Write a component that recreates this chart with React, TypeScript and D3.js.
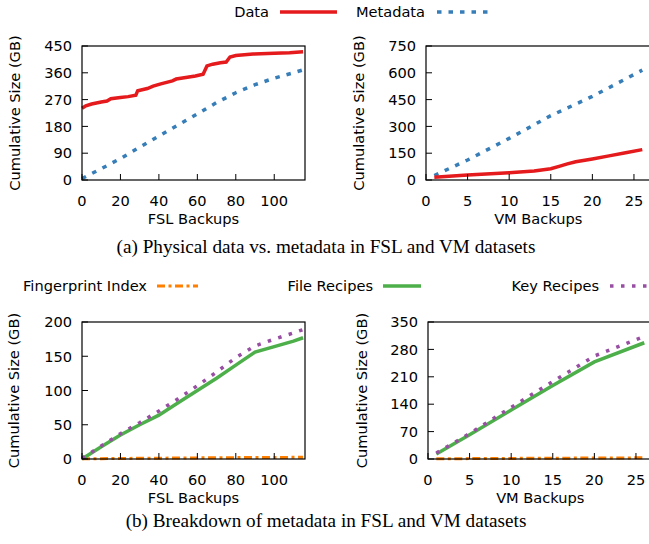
import React from 'react';
import * as d3 from 'd3';

// FSL: physical data vs metadata (GB)
const fslDataBackups = [0, 2, 5, 10, 13, 15, 20, 24, 28, 29, 34, 37, 41, 47, 49, 54, 59, 63, 65, 68, 72, 75, 77, 80, 89, 100, 108, 115];
const fslDataGB = [241, 249, 255, 262, 265, 273, 277, 280, 285, 300, 307, 315, 323, 333, 339, 344, 349, 355, 383, 389, 394, 396, 413, 418, 423, 426, 427, 431];
const fslMetaBackups = [0, 10, 20, 30, 40, 50, 60, 70, 80, 90, 100, 110, 115];
const fslMetaGB = [5, 38, 72, 110, 148, 185, 222, 260, 293, 320, 342, 360, 370];

// VM: physical data vs metadata (GB)
const vmDataBackups = [1, 5, 10, 13, 15, 16, 17, 18, 20, 22, 24, 26];
const vmDataGB = [15, 28, 40, 50, 63, 76, 90, 102, 118, 135, 152, 170];
const vmMetaBackups = [1, 5, 10, 15, 20, 26];
const vmMetaGB = [25, 112, 233, 360, 468, 615];

// FSL: metadata breakdown (GB)
const fslBreakBackups = [0, 10, 20, 30, 40, 50, 60, 70, 80, 90, 100, 110, 115];
const fslFingerprintGB = [0.3, 0.5, 0.8, 1.0, 1.2, 1.4, 1.6, 1.8, 2.0, 2.2, 2.3, 2.4, 2.5];
const fslFileRecipesGB = [0, 18, 35, 50, 64, 82, 100, 118, 137, 156, 164, 172, 177];
const fslKeyRecipesGB = [1, 19, 37, 53, 70, 88, 107, 127, 148, 165, 175, 184, 189];

// VM: metadata breakdown (GB)
const vmBreakBackups = [1, 5, 10, 15, 20, 26];
const vmFingerprintGB = [0.5, 1.0, 1.5, 2.0, 2.5, 3.0];
const vmFileRecipesGB = [13, 62, 125, 188, 248, 297];
const vmKeyRecipesGB = [15, 65, 132, 198, 263, 313];

const fslXTicks = [0, 20, 40, 60, 80, 100];
const vmXTicks = [0, 5, 10, 15, 20, 25];

const RED = '#e41a1c';
const BLUE = '#377eb8';
const ORANGE = '#ff7f00';
const GREEN = '#4daf4a';
const PURPLE = '#984ea3';

const SANS = '"DejaVu Sans", sans-serif';
const SERIF = '"Liberation Serif", serif';
const FS = 14.6;

const styles = {
  data: { color: RED, width: 3.5, dash: null },
  meta: { color: BLUE, width: 3.5, dash: '4.5 7' },
  fp: { color: ORANGE, width: 3, dash: '8 3.5 3 3.5' },
  file: { color: GREEN, width: 3.5, dash: null },
  key: { color: PURPLE, width: 3.5, dash: '3.5 7.5' },
};

const Panel = ({ x0, x1, y0, y1, xMax, yMax, yStep, xTicks, xLabel, yLabelX, series }) => {
  const x = d3.scaleLinear().domain([0, xMax]).range([x0, x1]);
  const y = d3.scaleLinear().domain([0, yMax]).range([y1, y0]);
  const yTicks = d3.range(0, yMax + 1, yStep);
  const line = d3.line().x(d => x(d[0])).y(d => y(d[1]));
  const tick = 6;
  return (
    <g>
      {series.map((s, i) => (
        <path key={i} d={line(s.xs.map((v, j) => [v, s.ys[j]]))} fill="none"
          stroke={s.style.color} strokeWidth={s.style.width}
          strokeDasharray={s.style.dash || undefined} />
      ))}
      <rect x={x0} y={y0} width={x1 - x0} height={y1 - y0} fill="none" stroke="#000" strokeWidth={1.2} />
      {yTicks.map(t => (
        <g key={'y' + t}>
          <line x1={x0} x2={x0 + tick} y1={y(t)} y2={y(t)} stroke="#000" />
          <text x={x0 - 10} y={y(t)} dy="0.36em" textAnchor="end" fontFamily={SANS} fontSize={FS}>{t}</text>
        </g>
      ))}
      {xTicks.map(t => (
        <g key={'x' + t}>
          <line x1={x(t)} x2={x(t)} y1={y1} y2={y1 - tick} stroke="#000" />
          <text x={x(t)} y={y1 + 21} dy="0.36em" textAnchor="middle" fontFamily={SANS} fontSize={FS}>{t}</text>
        </g>
      ))}
      <text x={(x0 + x1) / 2} y={y1 + 38.5} dy="0.36em" textAnchor="middle" fontFamily={SANS} fontSize={FS}>{xLabel}</text>
      <text transform={`translate(${yLabelX},${(y0 + y1) / 2}) rotate(-90)`} dy="0.36em" textAnchor="middle"
        fontFamily={SANS} fontSize={FS}>Cumulative Size (GB)</text>
    </g>
  );
};

const LegendItem = ({ label, textEnd, lineStart, lineEnd, y, style }) => (
  <g>
    <text x={textEnd} y={y} dy="0.36em" textAnchor="end" fontFamily={SANS} fontSize={FS}>{label}</text>
    <line x1={lineStart} x2={lineEnd} y1={y} y2={y} stroke={style.color} strokeWidth={style.width}
      strokeDasharray={style.dash || undefined} />
  </g>
);

export default function App() {
  return (
    <div style={{ position: 'absolute', left: 0, top: 0, width: 649, height: 544, background: '#fff' }}>
      <svg width={649} height={544} style={{ display: 'block' }}>
        <LegendItem label="Data" textEnd={269} lineStart={280} lineEnd={337} y={12} style={styles.data} />
        <LegendItem label="Metadata" textEnd={425} lineStart={437} lineEnd={490} y={12} style={styles.meta} />

        <Panel x0={82} x1={305} y0={46} y1={180} xMax={116} yMax={450} yStep={90} xTicks={fslXTicks}
          xLabel="FSL Backups" yLabelX={15}
          series={[
            { xs: fslMetaBackups, ys: fslMetaGB, style: styles.meta },
            { xs: fslDataBackups, ys: fslDataGB, style: styles.data },
          ]} />
        <Panel x0={426} x1={650.6} y0={46} y1={180} xMax={27} yMax={750} yStep={150} xTicks={vmXTicks}
          xLabel="VM Backups" yLabelX={359}
          series={[
            { xs: vmMetaBackups, ys: vmMetaGB, style: styles.meta },
            { xs: vmDataBackups, ys: vmDataGB, style: styles.data },
          ]} />

        <text x={326} y={246} dy="0.36em" textAnchor="middle" fontFamily={SERIF} fontSize={19.2}>
          (a) Physical data vs. metadata in FSL and VM datasets
        </text>

        <LegendItem label="Fingerprint Index" textEnd={147} lineStart={157} lineEnd={198} y={286} style={styles.fp} />
        <LegendItem label="File Recipes" textEnd={373} lineStart={383} lineEnd={421} y={286} style={styles.file} />
        <LegendItem label="Key Recipes" textEnd={599} lineStart={610} lineEnd={652} y={286} style={styles.key} />

        <Panel x0={82} x1={305} y0={322} y1={459} xMax={116} yMax={200} yStep={50} xTicks={fslXTicks}
          xLabel="FSL Backups" yLabelX={14}
          series={[
            { xs: fslBreakBackups, ys: fslFingerprintGB, style: styles.fp },
            { xs: fslBreakBackups, ys: fslFileRecipesGB, style: styles.file },
            { xs: fslBreakBackups, ys: fslKeyRecipesGB, style: styles.key },
          ]} />
        <Panel x0={428} x1={652.6} y0={322} y1={459} xMax={27} yMax={350} yStep={70} xTicks={vmXTicks}
          xLabel="VM Backups" yLabelX={362}
          series={[
            { xs: vmBreakBackups, ys: vmFingerprintGB, style: styles.fp },
            { xs: vmBreakBackups, ys: vmFileRecipesGB, style: styles.file },
            { xs: vmBreakBackups, ys: vmKeyRecipesGB, style: styles.key },
          ]} />

        <text x={326} y={520} dy="0.36em" textAnchor="middle" fontFamily={SERIF} fontSize={19.2}>
          (b) Breakdown of metadata in FSL and VM datasets
        </text>
      </svg>
    </div>
  );
}
